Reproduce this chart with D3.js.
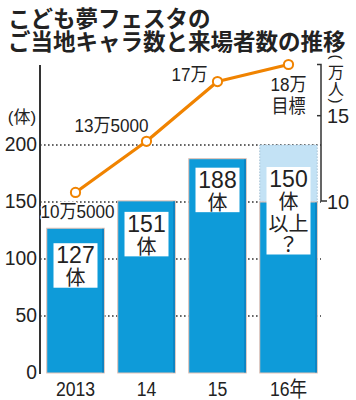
<!DOCTYPE html>
<html><head><meta charset="utf-8">
<script src="https://cdn.jsdelivr.net/npm/d3@7"></script>
<style>
html,body{margin:0;padding:0;background:#fff;}
svg{display:block;}
text{font-family:"Liberation Sans","Noto Sans CJK JP",sans-serif;fill:#222;}
.jp{font-family:"Noto Sans CJK JP",sans-serif;}
</style></head>
<body>
<script>
// ---- data ----
const years = ["2013", "14", "15", "16年"];
const mascots = [127, 151, 188, 150];
const mascotTarget = [null, null, null, 200];
const visitors = [10.5, 13.5, 17, 18];
const visitorLabels = [["10万5000"], ["13万5000"], ["17万"], ["18万", "目標"]];
const barLabels = [["127", "体"], ["151", "体"], ["188", "体"], ["150", "体", "以上", "？"]];
const leftTicks = [0, 50, 100, 150, 200];
const gridTicks = [50, 100, 150, 200];
const rightTicks = [10, 15];
const unitChars = ["万", "人"];
const titleLines = ["こども夢フェスタの", "ご当地キャラ数と来場者数の推移"];

// ---- layout ----
const W = 356, H = 400;
const svg = d3.select("body").append("svg").attr("width", W).attr("height", H);

const x = d3.scaleBand().domain(years).range([40, 324]).paddingInner(0.19).paddingOuter(0.095);
const y = d3.scaleLinear().domain([0, 200]).range([373, 145]);
const yR = d3.scaleLinear().domain([10, 18]).range([201, 64.5]);

const blue = "#0e9bd9", blueDark = "#0a7fbf", lightBlue = "#c3e2f5", orange = "#f08300", edge = "#e6c2b4";

// title
svg.selectAll("text.title").data(titleLines).join("text")
  .attr("class", "jp title")
  .attr("x", 8).attr("y", (d, i) => 27 + i * 23)
  .attr("font-size", 22.5).attr("font-weight", 700)
  .attr("fill", "#222")
  .text(d => d);

// gridlines (dotted)
svg.append("g").selectAll("line").data(gridTicks).join("line")
  .attr("x1", 40).attr("x2", 321)
  .attr("y1", d => y(d)).attr("y2", d => y(d))
  .attr("stroke", "#333").attr("stroke-width", 1.4).attr("stroke-dasharray", "1.6,2.4");

// target (light) part of bar 4
const gT = svg.append("g");
years.forEach((yr, i) => {
  if (mascotTarget[i] == null) return;
  gT.append("rect")
    .attr("x", x(yr)).attr("y", y(mascotTarget[i]))
    .attr("width", x.bandwidth()).attr("height", y(mascots[i]) - y(mascotTarget[i]))
    .attr("fill", lightBlue).attr("stroke", "#9ab8cc").attr("stroke-width", 0.8)
    .attr("stroke-dasharray", "1.5,1.5");
});

// bars
const gB = svg.append("g");
gB.selectAll("rect").data(mascots).join("rect")
  .attr("x", (d, i) => x(years[i])).attr("y", d => y(d))
  .attr("width", x.bandwidth()).attr("height", d => y(0) - y(d))
  .attr("fill", blue).attr("stroke", edge).attr("stroke-width", 1);
gB.selectAll("line").data(mascots).join("line")
  .attr("x1", (d, i) => x(years[i]) + x.bandwidth() - 1.2)
  .attr("x2", (d, i) => x(years[i]) + x.bandwidth() - 1.2)
  .attr("y1", d => y(d) + 0.5).attr("y2", y(0) - 0.5)
  .attr("stroke", blueDark).attr("stroke-width", 1.6);

// bar label boxes
const boxOffset = [15, 11, 9, 22];
const lineH = 21.5;
barLabels.forEach((lines, i) => {
  const top = (mascotTarget[i] != null ? y(mascotTarget[i]) : y(mascots[i])) + boxOffset[i];
  const cx = x(years[i]) + x.bandwidth() / 2;
  const g = svg.append("g");
  g.append("rect").attr("x", cx - 22).attr("y", top).attr("width", 44)
    .attr("height", lines.length * lineH + 1.5).attr("fill", "#fff");
  g.selectAll("text").data(lines).join("text")
    .attr("class", (d) => /^[0-9]+$/.test(d) ? "" : "jp")
    .attr("x", cx).attr("y", (d, j) => top + lineH * j + lineH / 2 + 1.5)
    .attr("text-anchor", "middle").attr("dominant-baseline", "central")
    .attr("font-size", d => /^[0-9]+$/.test(d) ? 23 : 20)
    .text(d => d);
});

// left axis
svg.append("line").attr("x1", 40).attr("x2", 40).attr("y1", 65).attr("y2", 374)
  .attr("stroke", "#333").attr("stroke-width", 2);
svg.append("g").selectAll("text").data(leftTicks).join("text")
  .attr("transform", d => `translate(37,${y(d) - 1}) scale(0.92,1)`)
  .attr("text-anchor", "end").attr("dominant-baseline", "central")
  .attr("font-size", 21).text(d => d);
svg.append("text").attr("x", 22).attr("y", 117)
  .attr("text-anchor", "middle").attr("dominant-baseline", "central")
  .attr("font-size", 17).text("(体)");

// x labels
svg.append("g").selectAll("text").data(years).join("text")
  .attr("transform", d => `translate(${x(d) + x.bandwidth() / 2},388) scale(0.84,1)`)
  .attr("text-anchor", "middle").attr("dominant-baseline", "central")
  .attr("font-size", 21).text(d => d);

// right axis
const rx = 321;
const ra = svg.append("g").attr("stroke", "#333").attr("stroke-width", 1.5).attr("fill", "none");
ra.append("path").attr("d", `M${rx - 4},${yR(18)}H${rx}V${yR(10)}H${rx + 6}`);
ra.append("line").attr("x1", rx - 4).attr("x2", rx).attr("y1", yR(15)).attr("y2", yR(15));
svg.append("g").selectAll("text").data(rightTicks).join("text")
  .attr("transform", d => `translate(327,${yR(d)}) scale(0.95,1)`)
  .attr("dominant-baseline", "central")
  .attr("font-size", 21).text(d => d);
// vertical unit label (万人) with rotated parentheses
const ug = svg.append("g");
ug.append("text").attr("transform", "translate(336,57) rotate(90)")
  .attr("text-anchor", "middle").attr("dominant-baseline", "central")
  .attr("font-size", 15).text("(");
ug.selectAll("text.u").data(unitChars).join("text")
  .attr("class", "jp u")
  .attr("x", 336).attr("y", (d, i) => 71 + i * 16.5)
  .attr("text-anchor", "middle").attr("dominant-baseline", "central")
  .attr("font-size", 16).text(d => d);
ug.append("text").attr("transform", "translate(336,101) rotate(90)")
  .attr("text-anchor", "middle").attr("dominant-baseline", "central")
  .attr("font-size", 15).text(")");

// visitor line
const pts = visitors.map((v, i) => [x(years[i]) + x.bandwidth() / 2, yR(v)]);
svg.append("path").attr("d", d3.line()(pts))
  .attr("fill", "none").attr("stroke", orange).attr("stroke-width", 3.2).attr("stroke-linejoin", "round");
svg.append("g").selectAll("circle").data(pts).join("circle")
  .attr("cx", d => d[0]).attr("cy", d => d[1]).attr("r", 4.6)
  .attr("fill", "#fff").attr("stroke", orange).attr("stroke-width", 2);

// visitor labels
const labLayout = [
  { dx: 2, dy: [19.5], anchor: "middle" },
  { dx: 2, dy: [-16], anchor: "end" },
  { dx: -10, dy: [-7], anchor: "end" },
  { dx: 0, dy: [20.5, 42.5], anchor: "middle" }
];
visitorLabels.forEach((lines, i) => {
  const L = labLayout[i];
  lines.forEach((t, j) => {
    svg.append("text")
      .attr("transform", `translate(${pts[i][0] + L.dx},${pts[i][1] + L.dy[j]}) scale(0.9,1)`)
      .attr("text-anchor", L.anchor).attr("dominant-baseline", "central")
      .attr("font-size", 19)
      .attr("stroke", "#fff").attr("stroke-width", 3).attr("paint-order", "stroke")
      .attr("stroke-linejoin", "round")
      .text(t);
  });
});
</script>
</body></html>
